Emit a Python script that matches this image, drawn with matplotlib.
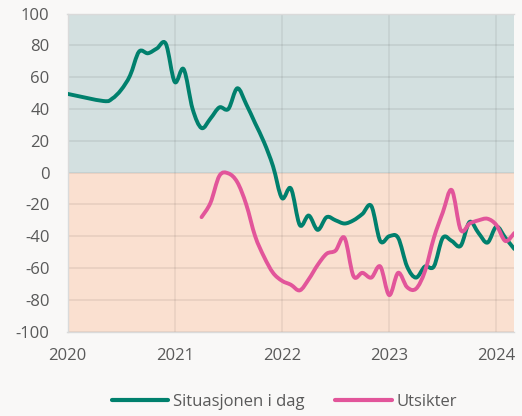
import matplotlib
matplotlib.use("Agg")
import matplotlib.pyplot as plt
from matplotlib.path import Path
from matplotlib.patches import PathPatch
from matplotlib.lines import Line2D
import pandas as pd

# ---------------- data ----------------
situasjonen_first_date = "2020-01"
situasjonen_first_value = 49.5
situasjonen_start = "2020-05"
situasjonen_values = [45, 46.5, 52, 61, 76, 75, 78, 81, 57, 65,
                      40, 28, 34, 41, 40, 53, 43, 31, 19, 4,
                      -16, -10, -33, -27, -36, -28, -30, -32, -30, -26,
                      -21, -43, -40, -41, -59, -66, -59, -59, -41, -43,
                      -46, -31, -38, -44, -34, -41, -48]

utsikter_start = "2021-04"
utsikter_values = [-28, -19, -2, -0.5, -6, -20, -40, -53, -63, -68,
                   -70.5, -74, -67, -58, -51, -49, -41, -65, -63, -66,
                   -59, -77, -63, -72, -73, -62, -41, -25, -11, -36,
                   -32, -30, -29, -33, -43, -38]

year_ticks = [2020, 2021, 2022, 2023, 2024]
y_ticks = list(range(-100, 101, 20))
series_names = ["Situasjonen i dag", "Utsikter"]


def to_decimal(dates):
    d = pd.DatetimeIndex(dates)
    return list(d.year + (d.month - 1) / 12.0)


green_dates = [situasjonen_first_date] + list(
    pd.date_range(situasjonen_start, periods=len(situasjonen_values), freq="MS"))
green_x = to_decimal(green_dates)
green_y = [situasjonen_first_value] + situasjonen_values

pink_x = to_decimal(pd.date_range(utsikter_start, periods=len(utsikter_values), freq="MS"))
pink_y = utsikter_values


def smooth_path(x, y):
    """Catmull-Rom style smoothed line as Bezier path (like Excel smoothed line)."""
    n = len(x)
    verts = [(x[0], y[0])]
    codes = [Path.MOVETO]
    for i in range(n - 1):
        p0 = i - 1 if i > 0 else i
        p3 = i + 2 if i + 2 < n else i + 1
        c1 = (x[i] + (x[i + 1] - x[p0]) / 6.0, y[i] + (y[i + 1] - y[p0]) / 6.0)
        c2 = (x[i + 1] - (x[p3] - x[i]) / 6.0, y[i + 1] - (y[p3] - y[i]) / 6.0)
        verts += [c1, c2, (x[i + 1], y[i + 1])]
        codes += [Path.CURVE4] * 3
    return Path(verts, codes)


GREEN = "#00806D"
PINK = "#E2559A"
TEXT = "#595959"

plt.rcParams["font.family"] = ["Open Sans", "DejaVu Sans"]

fig = plt.figure(figsize=(5.22, 4.16), dpi=100, facecolor="#F9F8F7")
ax = fig.add_axes([67.5 / 522, 1 - 331.7 / 416, (514.3 - 67.5) / 522, (331.7 - 13.5) / 416])

x_end = 2024 + 2 / 12.0
ax.set_xlim(2020, x_end)
ax.set_ylim(-100, 100)

ax.axhspan(0, 100, color="#D3E0E0", zorder=0, lw=0)
ax.axhspan(-100, 0, color="#FAE0D0", zorder=0, lw=0)

for yv in y_ticks:
    ax.axhline(yv, color="black", alpha=0.07, lw=1.3, zorder=1)
for xv in year_ticks:
    ax.axvline(xv, color="black", alpha=0.06, lw=1.3, zorder=1)

ax.add_patch(PathPatch(smooth_path(green_x, green_y), fill=False, edgecolor=GREEN,
                       lw=2.8, capstyle="round", joinstyle="round", zorder=3))
ax.add_patch(PathPatch(smooth_path(pink_x, pink_y), fill=False, edgecolor=PINK,
                       lw=2.8, capstyle="round", joinstyle="round", zorder=3))

ax.set_xticks(year_ticks)
ax.set_xticklabels([str(y) for y in year_ticks])
ax.set_yticks(y_ticks)
ax.set_yticklabels([str(v) for v in y_ticks])
ax.tick_params(axis="both", length=0, labelsize=12, colors=TEXT)
ax.tick_params(axis="x", pad=12)
ax.tick_params(axis="y", pad=13)

for side, sp in ax.spines.items():
    sp.set_color("#DADADA")
    sp.set_linewidth(1.0)
ax.spines["right"].set_visible(False)

handles = [Line2D([], [], color=GREEN, lw=3, solid_capstyle="round"),
           Line2D([], [], color=PINK, lw=3, solid_capstyle="round")]
fig.legend(handles, series_names, loc="center", bbox_to_anchor=(0.545, 1 - 401.7 / 416),
           ncol=2, frameon=False, fontsize=12, labelcolor=TEXT,
           handlelength=3.4, handletextpad=0.3, columnspacing=1.8)

fig.savefig("out.png", dpi=100, facecolor=fig.get_facecolor())
